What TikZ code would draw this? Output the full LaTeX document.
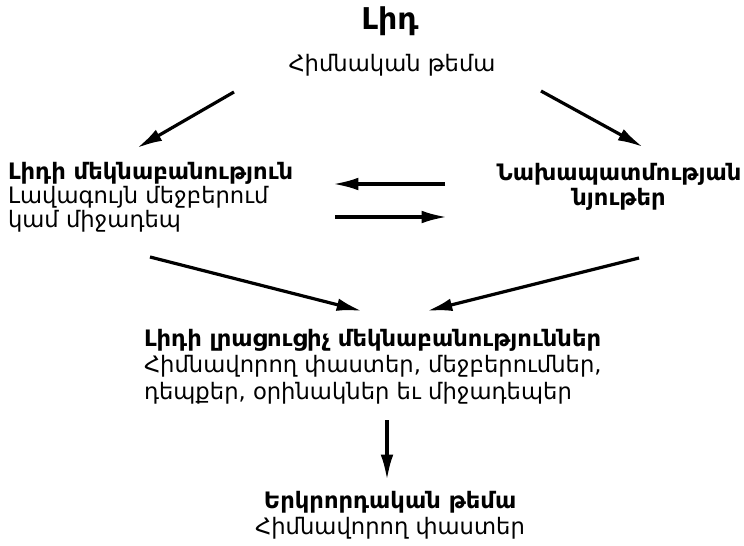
\documentclass[tikz,border=0pt]{standalone}
\usepackage{fontspec}
\setmainfont{DejaVu Sans}
\usetikzlibrary{calc,arrows.meta}

\begin{document}
\begin{tikzpicture}[x=0.75pt,y=-0.75pt,
    every node/.style={inner sep=0pt,outer sep=0pt},
    txt/.style={font=\fontsize{17}{20}\selectfont},
    tight/.style={font=\fontsize{17}{18}\selectfont},
    head/.style={font=\bfseries\fontsize{17}{19}\selectfont},
    arr/.style={-{Latex[length=19pt,width=9.5pt]},line width=2.4pt}]
  \useasboundingbox (0,0) rectangle (744,546);
  % lead and its theme
  \node[font=\bfseries\fontsize{22.5}{24}\selectfont,anchor=base] (lid) at (390,29) {Լիդ};
  \node[txt,anchor=base] (main) at (392,71) {Հիմնական թեմա};
  % second row
  \node[tight,align=left,anchor=north west] (comm) at (8,162)
    {\textbf{Լիդի մեկնաբանություն}\\Լավագույն մեջբերում\\կամ միջադեպ};
  \node[head,align=center,anchor=north] (back) at (619,163)
    {Նախապատմության\\նյութեր};
  % third row
  \node[txt,align=left,anchor=north west] (more) at (144,329)
    {\textbf{Լիդի լրացուցիչ մեկնաբանություններ}\\Հիմնավորող փաստեր, մեջբերումներ,\\դեպքեր, օրինակներ եւ միջադեպեր};
  \node[txt,align=center,anchor=north] (sec) at (390,491)
    {\textbf{Երկրորդական թեմա}\\Հիմնավորող փաստեր};
  % arrows
  \draw[arr] ($(main.base)+(-158,21)$) -- ($(comm.north west)+(129,-14)$);
  \draw[arr] ($(main.base)+(149,20)$) -- ($(back.north)+(24,-16)$);
  \draw[arr] ($(back.north)+(-174,21)$) -- ($(comm.north west)+(325,22)$);
  \draw[arr] ($(comm.north west)+(327,55)$) -- ($(back.north)+(-172,54)$);
  \draw[arr] ($(comm.north west)+(142,95)$) -- ($(more.north west)+(218,-18)$);
  \draw[arr] ($(back.north)+(20,95)$) -- ($(more.north west)+(283,-18)$);
  \draw[arr] ($(more.north west)+(243,91)$) -- ($(sec.north)+(-3,-11)$);
\end{tikzpicture}
\end{document}
